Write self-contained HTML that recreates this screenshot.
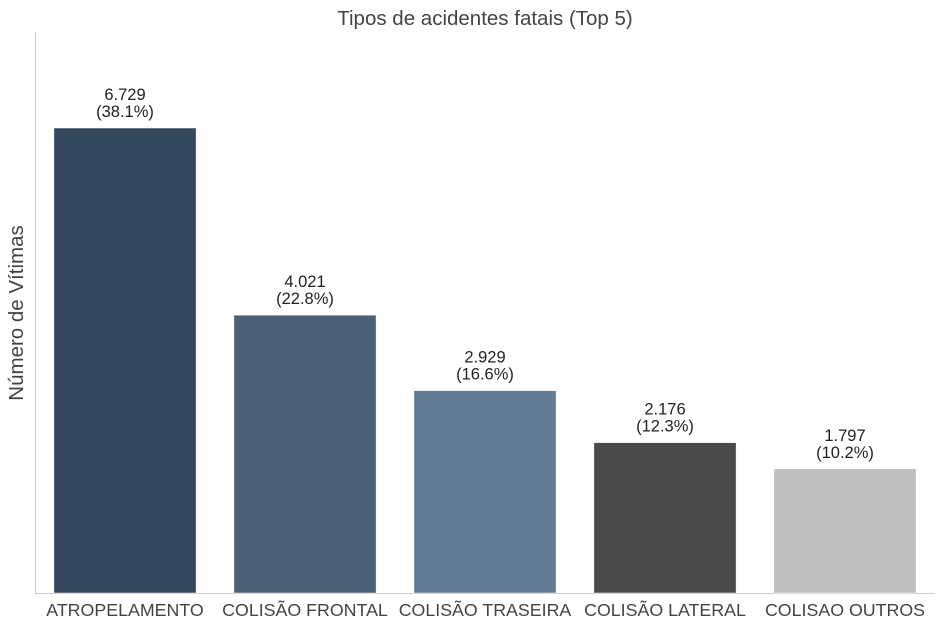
<!DOCTYPE html>
<html><head><meta charset="utf-8"><style>
body{margin:0;background:#fff;width:944px;height:631px;overflow:hidden}
text{font-family:"Liberation Sans",Arial,sans-serif}
</style></head><body>
<svg id="chart" width="944" height="631" xmlns="http://www.w3.org/2000/svg">
<text x="485" y="25" text-anchor="middle" font-size="20.5" fill="#444">Tipos de acidentes fatais (Top 5)</text>
<text transform="translate(23,313) rotate(-90)" text-anchor="middle" font-size="20.5" fill="#444">Número de Vítimas</text>
<line x1="35.5" y1="32" x2="35.5" y2="593" stroke="#ccc" stroke-width="1"/>
<line x1="35" y1="593.5" x2="935" y2="593.5" stroke="#ccc" stroke-width="1"/>
<g id="bars"></g>
</svg>
<script>
const categories = ["ATROPELAMENTO","COLISÃO FRONTAL","COLISÃO TRASEIRA","COLISÃO LATERAL","COLISAO OUTROS"];
const values = [6729, 4021, 2929, 2176, 1797];
const valueLabels = ["6.729","4.021","2.929","2.176","1.797"];
const pctLabels = ["(38.1%)","(22.8%)","(16.6%)","(12.3%)","(10.2%)"];
const colors = ["#34495e","#4b6176","#637c93","#4a4a4a","#bfbfbf"];
const x0=35, x1=935, yBase=593, yTop=35, yMax=6729*1.2;
const band=(x1-x0)/categories.length;
function xScale(i){return x0+band*i+band/2;}
function yScale(v){return yBase-(v/yMax)*(yBase-yTop);}
const ns="http://www.w3.org/2000/svg";
const g=document.getElementById('bars');
categories.forEach((c,i)=>{
  const w=band*0.79, cx=xScale(i), y=yScale(values[i]);
  const r=document.createElementNS(ns,'rect');
  
  
  r.setAttribute('x',cx-w/2);r.setAttribute('y',y);r.setAttribute('width',w);r.setAttribute('height',yBase-y);
  r.setAttribute('fill',colors[i]);r.setAttribute('stroke','#fff');r.setAttribute('stroke-width','0.5');
  g.appendChild(r);
  const t1=document.createElementNS(ns,'text');
  
  
  t1.setAttribute('x',cx);t1.setAttribute('y',y-28);t1.setAttribute('text-anchor','middle');t1.setAttribute('font-size','16.5');t1.setAttribute('fill','#222');
  t1.textContent=valueLabels[i];g.appendChild(t1);
  const t2=document.createElementNS(ns,'text');
  
  
  t2.setAttribute('x',cx);t2.setAttribute('y',y-11);t2.setAttribute('text-anchor','middle');t2.setAttribute('font-size','16.5');t2.setAttribute('fill','#222');
  t2.textContent=pctLabels[i];g.appendChild(t2);
  const t3=document.createElementNS(ns,'text');
  
  
  t3.setAttribute('x',cx);t3.setAttribute('y',616);t3.setAttribute('text-anchor','middle');t3.setAttribute('font-size','17.8');t3.setAttribute('fill','#444');
  t3.textContent=c;g.appendChild(t3);
});
</script>
</body></html>
